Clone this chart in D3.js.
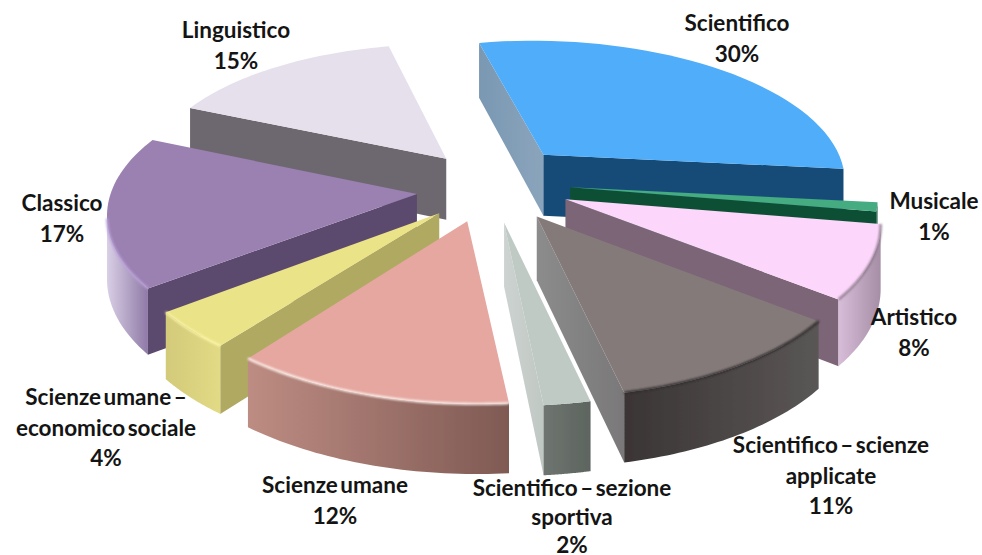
<!DOCTYPE html>
<html>
<head>
<meta charset="utf-8">
<script src="https://cdn.jsdelivr.net/npm/d3@7"></script>
<style>
html, body { margin: 0; padding: 0; background: #fff; }
svg { display: block; }
text { font-family: Lato, "Open Sans", sans-serif; font-weight: 700; font-size: 22.5px; word-spacing: -3px; fill: #141414; }
</style>
</head>
<body>
<svg id="chart" width="982" height="555"></svg>
<script>
const categories = ["Scientifico", "Musicale", "Artistico", "Scientifico – scienze applicate",
    "Scientifico – sezione sportiva", "Scienze umane", "Scienze umane – economico sociale",
    "Classico", "Linguistico"];
const values = [30, 1, 8, 11, 2, 12, 4, 17, 15];

// how far each slice is pulled out, in pie radii
const explode = [0.27, 0.27, 0.28, 0.28, 0.28, 0.28, 0.24, 0.25, 0.24];
// the 3D renderer is not a clean projection, these pull each slice back in line
const lean = [-4, 40, 10, 0, -5, -15, -15, -15, -10];
const nudge = [[0, 0], [-2, 0], [-4, 1], [0, 0], [1, 0], [3, 0], [3, 7], [3, 8], [1, 2]];

const topColors = ["#4fadf9", "#45ab80", "#fdd6fb", "#847a7a", "#bfcac5", "#e5a7a0", "#ebe388", "#9b80b2", "#e6e0ec"];
const cutColors = [["#7a98b3", "#8aa4bb"], ["#105034", "#105034"], ["#7c6577", "#7c6577"], ["#8c8c8c", "#7a7879"],
    ["#cdd3d0", "#c0c8c4"], ["#8a6660", "#8a6660"], ["#afa962", "#afa962"], ["#5c4a6e", "#5c4a6e"], ["#6d686f", "#6d686f"]];
const sideColors = [["#164c78", "#164c78"], ["#105034", "#105034"], ["#d8bdd8", "#a68ea6"], ["#3b3535", "#5a5656"],
    ["#6f7571", "#5d645f"], ["#bd8c82", "#7f5a54"], ["#d3ca7a", "#e2da84"], ["#d9cfe6", "#8f7aa6"], ["#6d686f", "#6d686f"]];
const endColors = ["#164c78", null, null, null, null, null, null, null, null];
const edgeColors = [null, null, "#8d7a8d", "#2e2a2a", null, "#fff3ef", "#fbf6a8", "#b9a0d8", null];

const labelLines = [["Scientifico", "30%"], ["Musicale", "1%"], ["Artistico", "8%"],
    ["Scientifico – scienze", "applicate", "11%"], ["Scientifico – sezione", "sportiva", "2%"],
    ["Scienze umane", "12%"], ["Scienze umane –", "economico sociale", "4%"],
    ["Classico", "17%"], ["Linguistico", "15%"]];
const labelAnchors = [[737, 31], [934, 209], [914, 325], [831, 453], [572, 496], [335, 493], [106, 405], [62, 211], [236, 38]];
const lineGaps = [30.5, 30.5, 30.5, 30.5, 28.5, 30.5, 30.5, 30.5, 30.5];

const cx = 490, cy = 182, scaleX = 305, scaleY = 140, persp = 0.158;
const depth = d3.scaleLinear().domain([-1.26, 1.16]).range([70, 55]);

// disc coordinates -> screen, the front of the disc is drawn bigger
function project(u, v) {
    const w = 1 + persp * v;
    return { x: cx + scaleX * u / w, y: cy - scaleY * v / w, v: v };
}

const pie = d3.pie().sort(null).value(d => d)
    .startAngle(-12 * Math.PI / 180).endAngle(348 * Math.PI / 180);
const arcs = pie(values);

const svg = d3.select("#chart");
const defs = svg.append("defs");
defs.append("filter").attr("id", "soft").append("feGaussianBlur").attr("stdDeviation", 0.5);
defs.append("filter").attr("id", "edge").append("feGaussianBlur").attr("stdDeviation", 1.1);

function addGradient(id, pair) {
    const g = defs.append("linearGradient").attr("id", id);
    g.append("stop").attr("offset", "0%").attr("stop-color", pair[0]);
    g.append("stop").attr("offset", "100%").attr("stop-color", pair[1]);
}

const line = d3.line().x(d => d.x).y(d => d.y);
const below = p => ({ x: p.x, y: p.y + depth(p.v) });

function wallPath(points) {
    return line(points.concat(points.map(below).reverse())) + "Z";
}

function buildSlice(d, i) {
    const mid = (d.startAngle + d.endAngle) / 2;
    const ou = explode[i] * Math.sin(mid), ov = explode[i] * Math.cos(mid);
    const place = (u, v) => {
        const p = project(u, v);
        p.x += lean[i] * (v - ov) + nudge[i][0];
        p.y += nudge[i][1];
        return p;
    };
    const apex = place(ou, ov);
    const rim = d3.range(0, 41).map(k => {
        const a = d.startAngle + (d.endAngle - d.startAngle) * k / 40;
        return place(ou + Math.sin(a), ov + Math.cos(a));
    });
    return { i, apex, rim };
}

const slices = arcs.map(buildSlice);
// painted back to front
const paintOrder = [8, 0, 1, 2, 7, 6, 5, 4, 3];

const chart = svg.append("g").attr("filter", "url(#soft)");

paintOrder.forEach(i => {
    const s = slices[i];
    const g = chart.append("g").attr("class", "slice");
    const first = s.rim[0], last = s.rim[s.rim.length - 1];
    addGradient("cut" + i, cutColors[i]);
    addGradient("side" + i, sideColors[i]);

    // cut faces, only those turned towards the viewer
    if (first.x < s.apex.x) {
        g.append("path").attr("d", wallPath([s.apex, first])).attr("fill", `url(#cut${i})`);
    }
    if (last.x > s.apex.x) {
        g.append("path").attr("d", wallPath([last, s.apex]))
            .attr("fill", endColors[i] || `url(#cut${i})`);
    }

    // outer rim, the part that faces front
    const front = s.rim.filter((p, k) => {
        const next = s.rim[k + 1], prev = s.rim[k - 1];
        return (next && next.x < p.x) || (!next && prev.x > p.x);
    });
    if (front.length > 1) {
        g.append("path").attr("d", wallPath(front)).attr("fill", `url(#side${i})`);
    }

    // top face
    g.append("path").attr("d", line([s.apex].concat(s.rim)) + "Z").attr("fill", topColors[i]);

    // bevel along the rim
    if (edgeColors[i] && front.length > 1) {
        g.append("path").attr("d", line(front)).attr("fill", "none")
            .attr("stroke", edgeColors[i]).attr("stroke-width", 2.2).attr("filter", "url(#edge)");
    }
});

const labels = svg.append("g");
labelLines.forEach((lines, i) => {
    const text = labels.append("text").attr("text-anchor", "middle");
    lines.forEach((t, k) => {
        text.append("tspan").attr("x", labelAnchors[i][0]).attr("y", labelAnchors[i][1] + k * lineGaps[i]).text(t);
    });
});
</script>
</body>
</html>
